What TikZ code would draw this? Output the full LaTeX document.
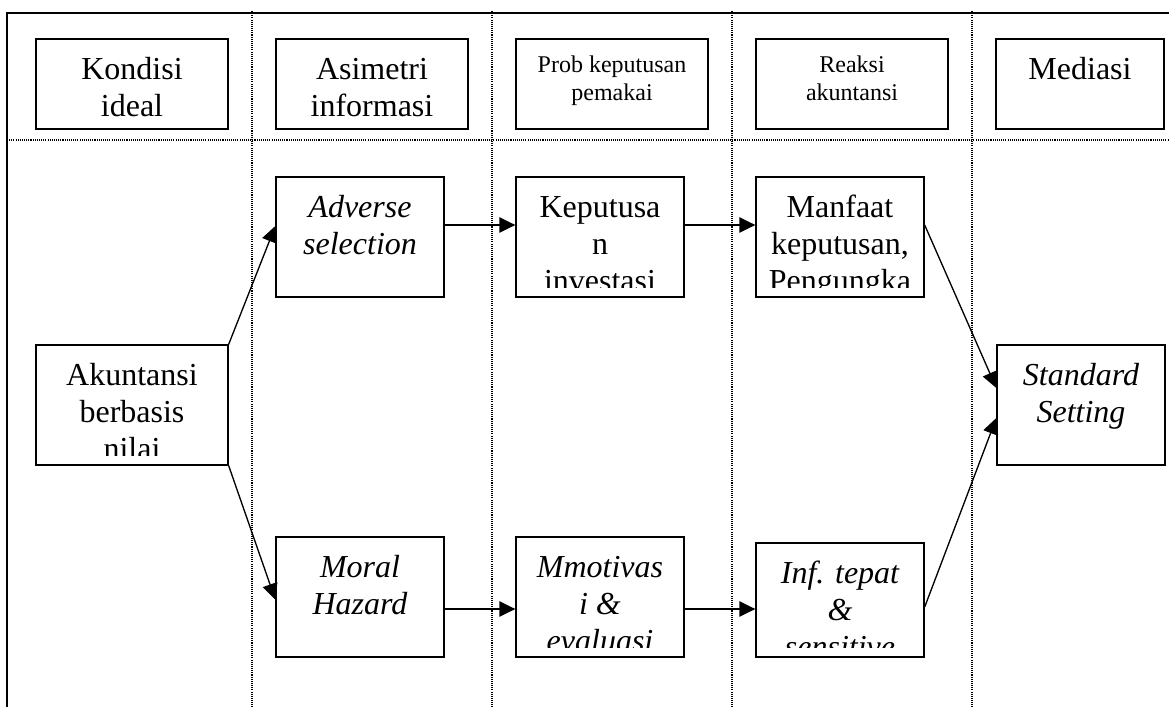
\documentclass[tikz,border=0pt]{standalone}
\usepackage{fontspec}
\setmainfont{Liberation Serif}
\usetikzlibrary{arrows.meta}
\tikzset{
  cell/.style={draw, line width=1pt, inner sep=0pt,
               minimum width=126pt, minimum height=90pt},
  headcell/.style={cell, minimum width=144pt, minimum height=67.5pt},
  txt/.style={align=center, inner sep=0pt, anchor=north,
              font=\fontsize{24}{27.75}\selectfont},
  smalltxt/.style={txt, yshift=5.25pt, font=\fontsize{18}{21}\selectfont},
  ittxt/.style={txt, font=\fontsize{24}{27.75}\selectfont\itshape},
  grid/.style={line width=0.8pt, dash pattern=on 0.8pt off 0.8pt},
  ar/.style={-{Triangle[length=12pt, width=11.5pt]}, line width=1pt}
}
% text set from the top of the box, cut off near its lower edge
\newcommand{\celltext}[3][]{%
  \begin{scope}
    \clip (#2.north west) rectangle ([yshift=7.5pt]#2.south east);
    \node[txt, #1] at (#2.north) {\rule{0pt}{30.75pt}#3};
  \end{scope}}

\begin{document}
\begin{tikzpicture}[x=0.75pt, y=-0.75pt]
  \useasboundingbox (0,0) rectangle (1169,707);

  % frame and column grid
  \draw[line width=1.2pt] (7,707) -- (7,13) -- (1169,13);
  \draw[grid] (7,140) -- (1169,140);
  \foreach \x in {252,492,732,972}
    \draw[grid] (\x,11) -- (\x,707);

  % header row
  \node[headcell] (kond) at (132,84) {};
  \node[headcell] (asim) at (372,84) {};
  \node[headcell] (prob) at (612,84) {};
  \node[headcell] (reak) at (852,84) {};
  \node[headcell, minimum width=126pt] (medi) at (1080,84) {};
  \celltext{kond}{Kondisi\\ideal}
  \celltext{asim}{Asimetri\\informasi}
  \celltext[smalltxt]{prob}{Prob keputusan\\pemakai}
  \celltext[smalltxt]{reak}{Reaksi\\akuntansi}
  \celltext{medi}{Mediasi}

  % flow
  \node[cell, minimum width=144pt] (akun) at (132,405) {};
  \node[cell] (adv) at (360,237) {};
  \node[cell] (kep) at (600,237) {};
  \node[cell] (manf) at (840,237) {};
  \node[cell] (moral) at (360,597) {};
  \node[cell] (mmot) at (600,597) {};
  \node[cell, minimum height=85.5pt] (inf) at (840,600) {};
  \node[cell] (std) at (1081,405) {};
  \celltext{akun}{Akuntansi\\berbasis\\nilai}
  \celltext[ittxt]{adv}{Adverse\\selection}
  \celltext{kep}{Keputusa\\n\\investasi}
  \celltext{manf}{Manfaat\\keputusan,\\Pengungka}
  \celltext[ittxt]{moral}{Moral\\Hazard}
  \celltext[ittxt]{mmot}{Mmotivas\\i \&\\evaluasi}
  \celltext[ittxt]{inf}{Inf. tepat\\\&\\sensitive}
  \celltext[ittxt]{std}{Standard\\Setting}

  \draw[ar] (akun.north east) -- ([yshift=8.25pt]adv.west);
  \draw[ar] (akun.south east) -- ([yshift=-2pt]moral.west);
  \draw[ar] ([yshift=9pt]adv.east) -- ([yshift=9pt]kep.west);
  \draw[ar] ([yshift=9pt]kep.east) -- ([yshift=9pt]manf.west);
  \draw[ar] ([yshift=-9pt]moral.east) -- ([yshift=-9pt]mmot.west);
  \draw[ar] ([yshift=-9pt]mmot.east) -- ([yshift=-6.75pt]inf.west);
  \draw[ar] ([yshift=9pt]manf.east) -- ([yshift=12.75pt]std.west);
  \draw[ar] ([yshift=-5.25pt]inf.east) -- ([yshift=-9.75pt]std.west);
\end{tikzpicture}
\end{document}
